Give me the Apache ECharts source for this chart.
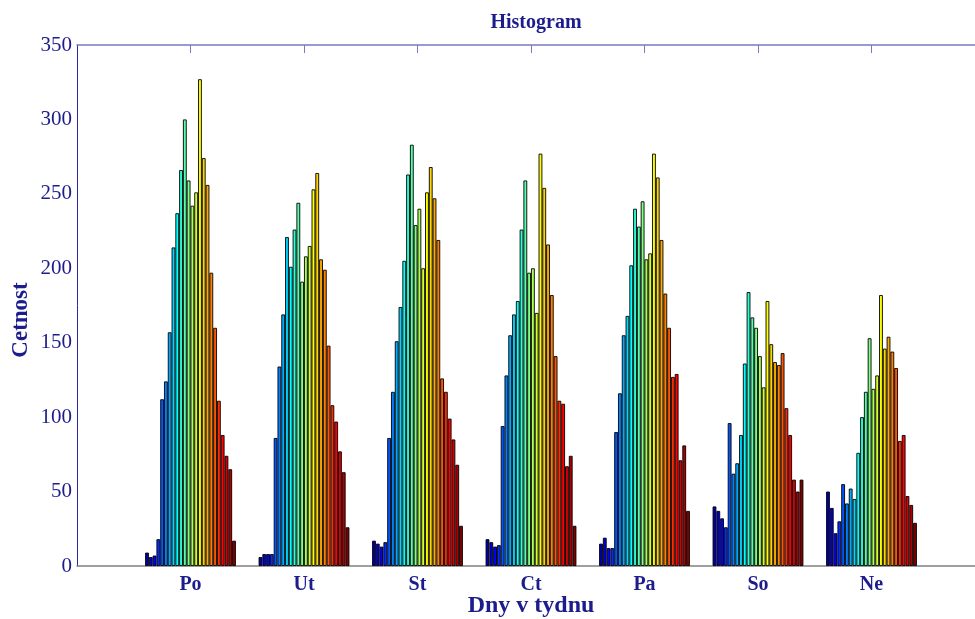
<!DOCTYPE html>
<html>
<head>
<meta charset="utf-8">
<script src="https://cdn.jsdelivr.net/npm/echarts@6/dist/echarts.min.js"></script>
<style>
  html, body { margin: 0; padding: 0; background: #fff; overflow: hidden; }
  #chart { width: 1000px; height: 619px; }
</style>
</head>
<body>
<div id="chart"></div>
<script>
// days of the week; 24 hourly counts per day
const days = ['Po', 'Ut', 'St', 'Ct', 'Pa', 'So', 'Ne'];

const po = [9, 6, 7, 18, 112, 124, 157, 214, 237, 266, 300, 259, 242, 251, 327, 274, 256, 197, 160, 111, 88, 74, 65, 17];
const ut = [6, 8, 8, 8, 86, 134, 169, 221, 201, 226, 244, 191, 208, 215, 253, 264, 206, 199, 148, 108, 97, 77, 63, 26];
const st = [17, 15, 13, 16, 86, 117, 151, 174, 205, 263, 283, 229, 240, 200, 251, 268, 247, 219, 126, 117, 99, 85, 68, 27];
const ct = [18, 16, 13, 14, 94, 128, 155, 169, 178, 226, 259, 197, 200, 170, 277, 254, 216, 182, 141, 111, 109, 67, 74, 27];
const pa = [15, 19, 12, 12, 90, 116, 155, 168, 202, 240, 228, 245, 206, 210, 277, 261, 219, 183, 160, 127, 129, 71, 81, 37];
const so = [40, 37, 32, 26, 96, 62, 69, 88, 136, 184, 167, 160, 141, 120, 178, 149, 137, 135, 143, 106, 88, 58, 50, 58];
const ne = [50, 39, 22, 30, 55, 42, 52, 45, 76, 100, 117, 153, 119, 128, 182, 146, 154, 144, 133, 84, 88, 47, 41, 29];

const yTicks = [0, 50, 100, 150, 200, 250, 300, 350];

// MATLAB jet(24)
const jet = [
  '#0000aa', '#0000d5', '#0000ff', '#002bff', '#0055ff', '#0080ff',
  '#00aaff', '#00d5ff', '#00ffff', '#2bffd5', '#55ffaa', '#80ff80',
  '#aaff55', '#d5ff2b', '#ffff00', '#ffd500', '#ffaa00', '#ff8000',
  '#ff5500', '#ff2b00', '#ff0000', '#d50000', '#aa0000', '#800000'
];

const byDay = [po, ut, st, ct, pa, so, ne];
const cats = [''].concat(days, ['']);

const series = jet.map((c, h) => ({
  type: 'bar',
  name: String(h + 1),
  barGap: '0%',
  barCategoryGap: '20%',
  data: [null].concat(byDay.map(d => d[h]), [null]),
  itemStyle: { color: c, borderColor: '#000', borderWidth: 0.9 },
  silent: true
}));

const txt = '#1c1c8c';
const font = 'Liberation Serif';

const chart = echarts.init(document.getElementById('chart'));
chart.setOption({
  animation: false,
  backgroundColor: '#fff',
  title: {
    text: 'Histogram',
    left: 531,
    top: 8,
    textAlign: 'center',
    textStyle: { color: txt, fontFamily: font, fontSize: 20, fontWeight: 'bold' }
  },
  // axis titles placed by hand (MATLAB-style positions)
  graphic: [
    {
      type: 'text', x: 531, y: 606,
      style: {
        text: 'Dny v tydnu', fill: txt, font: 'bold 24px "Liberation Serif"',
        align: 'center', verticalAlign: 'middle'
      }
    },
    {
      type: 'text', x: 21, y: 320, rotation: Math.PI / 2,
      style: {
        text: 'Cetnost', fill: txt, font: 'bold 23px "Liberation Serif"',
        align: 'center', verticalAlign: 'middle'
      }
    }
  ],
  grid: { left: 77, top: 45, width: 908, height: 521, outerBoundsMode: 'none', containLabel: false },
  xAxis: [
    {
      type: 'category',
      data: cats,
      boundaryGap: false,
      position: 'bottom',
      axisLine: { lineStyle: { color: '#808080', width: 1.5 } },
      axisTick: { show: false },
      axisLabel: {
        color: txt, fontFamily: font, fontSize: 20, fontWeight: 'bold', margin: 9,
        interval: 0
      }
    },
    {
      type: 'category',
      data: cats,
      boundaryGap: false,
      position: 'top',
      axisLine: { lineStyle: { color: '#7a7abf', width: 1.5 } },
      axisTick: {
        inside: true, length: 8, lineStyle: { color: '#7a7abf' },
        interval: (i) => i > 0 && i < 8
      },
      axisLabel: { show: false }
    }
  ],
  yAxis: {
    type: 'value',
    min: yTicks[0],
    max: yTicks[yTicks.length - 1],
    interval: 50,
    axisLine: { show: true, lineStyle: { color: '#2a2a9a', width: 1 } },
    axisTick: { inside: true, length: 8, lineStyle: { color: '#7a7abf' } },
    axisLabel: { color: txt, fontFamily: font, fontSize: 21, margin: 5 },
    splitLine: { show: false }
  },
  series: series
});
</script>
</body>
</html>
